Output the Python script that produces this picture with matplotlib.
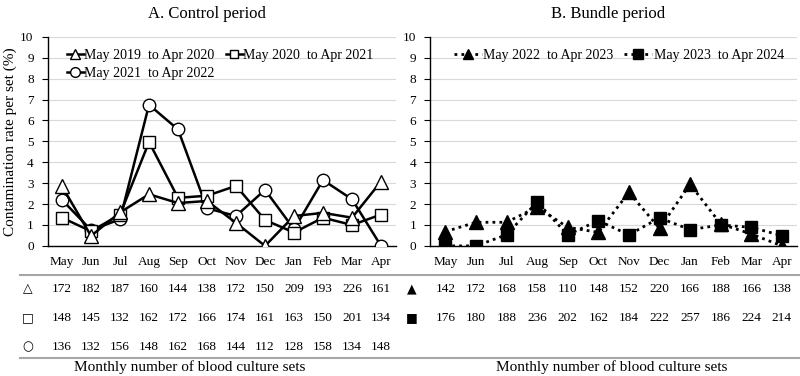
import matplotlib
matplotlib.use("Agg")
import matplotlib.pyplot as plt
import matplotlib.transforms as mtransforms
from matplotlib.lines import Line2D

plt.rcParams['font.family'] = ['Liberation Serif', 'DejaVu Sans']

months = ['May', 'Jun', 'Jul', 'Aug', 'Sep', 'Oct', 'Nov', 'Dec', 'Jan', 'Feb', 'Mar', 'Apr']

# contamination rate (%) - control period
rate_1920 = [2.85, 0.48, 1.6, 2.47, 2.05, 2.15, 1.1, 0.0, 1.43, 1.58, 1.35, 3.08]
rate_2021 = [1.35, 0.7, 1.5, 4.97, 2.3, 2.4, 2.87, 1.24, 0.64, 1.35, 1.0, 1.5]
rate_2122 = [2.2, 0.76, 1.27, 6.75, 5.57, 1.8, 1.43, 2.68, 0.8, 3.15, 2.23, 0.0]

# contamination rate (%) - bundle period
rate_2223 = [0.68, 1.13, 1.13, 1.86, 0.89, 0.65, 2.56, 0.84, 2.95, 1.05, 0.57, 0.0]
rate_2324 = [0.0, 0.0, 0.53, 2.1, 0.53, 1.21, 0.53, 1.34, 0.78, 1.0, 0.89, 0.49]

# monthly number of blood culture sets
sets_1920 = [172, 182, 187, 160, 144, 138, 172, 150, 209, 193, 226, 161]
sets_2021 = [148, 145, 132, 162, 172, 166, 174, 161, 163, 150, 201, 134]
sets_2122 = [136, 132, 156, 148, 162, 168, 144, 112, 128, 158, 134, 148]
sets_2223 = [142, 172, 168, 158, 110, 148, 152, 220, 166, 188, 166, 138]
sets_2324 = [176, 180, 188, 236, 202, 162, 184, 222, 257, 186, 224, 214]

fig = plt.figure(figsize=(8, 3.76), dpi=100)
axA = fig.add_axes([0.0594, 0.346, 0.435, 0.556])
axB = fig.add_axes([0.5375, 0.346, 0.459, 0.556])

x = list(range(len(months)))


def style_axes(ax):
    ax.set_xlim(-0.5, 11.5)
    ax.set_ylim(0, 10)
    ax.set_yticks(range(0, 11))
    ax.set_xticks(x)
    ax.set_xticklabels(months)
    ax.grid(axis='y', color='#d9d9d9', lw=0.8)
    ax.set_axisbelow(True)
    for s in ['top', 'right']:
        ax.spines[s].set_visible(False)
    for s in ['left', 'bottom']:
        ax.spines[s].set_color('black')
        ax.spines[s].set_linewidth(1.0)
    ax.tick_params(axis='y', direction='out', length=4, labelsize=9.5, pad=6)
    ax.tick_params(axis='x', length=0, labelsize=9.5, pad=7)


style_axes(axA)
style_axes(axB)

lw = 1.8
axA.plot(x, rate_2122, color='black', lw=lw, marker='o', ms=9, mfc='white', mec='black', mew=1.0,
         label='May 2021  to Apr 2022', zorder=3)
axA.plot(x, rate_2021, color='black', lw=lw, marker='s', ms=8, mfc='white', mec='black', mew=1.0,
         label='May 2020  to Apr 2021', zorder=4)
axA.plot(x, rate_1920, color='black', lw=lw, marker='^', ms=10, mfc='white', mec='black', mew=1.0,
         label='May 2019  to Apr 2020', zorder=5)

axB.plot(x, rate_2223, color='black', lw=2, ls=(0, (1, 1.5)), marker='^', ms=10, mfc='black', mec='black',
         label='May 2022  to Apr 2023', zorder=4)
axB.plot(x, rate_2324, color='black', lw=2, ls=(0, (1, 1.5)), marker='s', ms=9, mfc='black', mec='black',
         label='May 2023  to Apr 2024', zorder=3)

hA = [Line2D([], [], color='black', lw=lw, marker='^', ms=7, mfc='white', mec='black'),
      Line2D([], [], color='black', lw=lw, marker='o', ms=7, mfc='white', mec='black'),
      Line2D([], [], color='black', lw=lw, marker='s', ms=6, mfc='white', mec='black')]
lA = ['May 2019  to Apr 2020', 'May 2021  to Apr 2022', 'May 2020  to Apr 2021']
axA.legend(hA, lA, ncol=2, frameon=False, fontsize=10, loc='upper left', bbox_to_anchor=(0.04, 0.97),
           handlelength=1.2, handletextpad=0.05, columnspacing=0.8, labelspacing=0.35, borderaxespad=0)

hB = [Line2D([], [], color='black', lw=2, ls=(0, (1, 1.5)), marker='^', ms=7, mfc='black', mec='black'),
      Line2D([], [], color='black', lw=2, ls=(0, (1, 1.5)), marker='s', ms=7, mfc='black', mec='black')]
lB = ['May 2022  to Apr 2023', 'May 2023  to Apr 2024']
axB.legend(hB, lB, ncol=2, frameon=False, fontsize=10, loc='upper left', bbox_to_anchor=(0.05, 0.97),
           handlelength=2.0, handletextpad=0.1, columnspacing=0.8, borderaxespad=0)

axA.set_ylabel('Contamination rate per set (%)', fontsize=11, labelpad=2)

fig.text(207 / 800, 1 - 14 / 376, 'A. Control period', fontsize=12, ha='center', va='center')
fig.text(608 / 800, 1 - 14 / 376, 'B. Bundle period', fontsize=12, ha='center', va='center')

# table of monthly counts
row_y = [1 - 289 / 376, 1 - 318 / 376, 1 - 347 / 376]
trA = mtransforms.blended_transform_factory(axA.transData, fig.transFigure)
trB = mtransforms.blended_transform_factory(axB.transData, fig.transFigure)

for yy, sym, vals in zip(row_y, ['\u25b3', '\u25a1', '\u25cb'], [sets_1920, sets_2021, sets_2122]):
    fig.text(28 / 800, yy, sym, fontsize=9, ha='center', va='center', family='DejaVu Sans')
    for xi, v in zip(x, vals):
        fig.text(xi, yy, str(v), transform=trA, fontsize=9.5, ha='center', va='center')

for yy, sym, vals in zip(row_y, ['\u25b2', '\u25a0'], [sets_2223, sets_2324]):
    fig.text(412 / 800, yy, sym, fontsize=9, ha='center', va='center', family='DejaVu Sans')
    for xi, v in zip(x, vals):
        fig.text(xi, yy, str(v), transform=trB, fontsize=9.5, ha='center', va='center')

for yy in [1 - 275 / 376, 1 - 358 / 376]:
    fig.add_artist(Line2D([20 / 800, 1.0], [yy, yy], transform=fig.transFigure, color='#a6a6a6', lw=1.5))

fig.text(190 / 800, 1 - 367 / 376, 'Monthly number of blood culture sets', fontsize=11, ha='center', va='center')
fig.text(612 / 800, 1 - 367 / 376, 'Monthly number of blood culture sets', fontsize=11, ha='center', va='center')

fig.savefig('out.png', dpi=100)
